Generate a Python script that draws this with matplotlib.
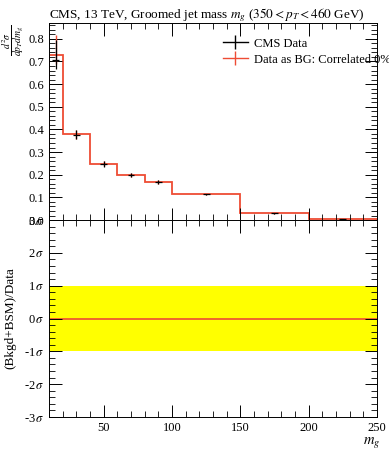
import numpy as np
import matplotlib.pyplot as plt
from matplotlib.lines import Line2D
from matplotlib.ticker import MultipleLocator, FixedLocator

# Bin edges in groomed jet mass m_g
bin_edges = [10, 20, 40, 60, 80, 100, 150, 200, 250]
# Histogram ("Data as BG") values
bg_values = [0.727, 0.378, 0.249, 0.198, 0.167, 0.113, 0.029, 0.003]
# CMS data points
data_x = [15, 30, 50, 70, 90, 125, 175, 225]
data_y = [0.705, 0.376, 0.248, 0.198, 0.167, 0.113, 0.029, 0.003]
data_err_lo = [0.04, 0.020, 0.012, 0.008, 0.008, 0.003, 0.001, 0.0005]
data_err_hi = [0.09, 0.020, 0.012, 0.008, 0.008, 0.003, 0.001, 0.0005]
# pull panel
sigma_band = [-1, 1]
pull_values = [0, 0, 0, 0, 0, 0, 0, 0]

plt.rcParams['font.family'] = ['Liberation Serif', 'DejaVu Serif']
plt.rcParams['mathtext.fontset'] = 'stix'
red = '#ee4c34'

fig = plt.figure(figsize=(3.89, 4.5), dpi=100)
ax1 = fig.add_axes([0.126, 0.511, 0.843, 0.438])
ax2 = fig.add_axes([0.126, 0.0733, 0.843, 0.4378])

# top panel
ax1.stairs(bg_values, bin_edges, color=red, lw=1.3)
ax1.errorbar(data_x, bg_values, yerr=[data_err_lo, data_err_hi], fmt='none',
             ecolor=red, elinewidth=1.0)
ax1.errorbar(data_x, data_y, yerr=[data_err_lo, data_err_hi],
             xerr=2.5, fmt='none', ecolor='black', elinewidth=0.9)
ax1.set_xlim(10, 250)
ax1.yaxis.set_major_locator(MultipleLocator(0.1))
ax1.yaxis.set_minor_locator(MultipleLocator(0.02))
ax1.set_ylim(0, 0.87)
ax1.yaxis.set_major_formatter(lambda v, p: '%.1f' % v)
ax1.set_xticklabels([])

handles = [Line2D([], [], color='black', lw=1.0, marker='|', markersize=10,
                  markeredgewidth=1.0),
           Line2D([], [], color=red, lw=1.0, marker='|', markersize=10,
                  markeredgewidth=1.0)]
labels = ['CMS Data', 'Data as BG: Correlated 0%']
ax1.legend(handles, labels, loc='upper left', bbox_to_anchor=(0.515, 0.95),
           frameon=False, fontsize=9, handlelength=2.0, handletextpad=0.5,
           borderaxespad=0, labelspacing=0.3)

fig.text(0.035, 0.91, r'$\frac{d^2\sigma}{dp_T dm_g}$', rotation=90,
         fontsize=10, ha='center', va='center')
fig.text(0.125, 0.985, r'CMS, 13 TeV, Groomed jet mass $m_g$ ($350 < p_T < 460$ GeV)',
         fontsize=9.5, ha='left', va='top')

# bottom panel
ax2.axhspan(sigma_band[0], sigma_band[1], color='#ffff00', lw=0)
ax2.stairs(pull_values, bin_edges, color=red, lw=1.2)
ax2.set_xlim(10, 250)
ax2.set_ylim(-3, 3)
ax2.yaxis.set_major_locator(FixedLocator([-3, -2, -1, 0, 1, 2, 3]))
ax2.yaxis.set_minor_locator(MultipleLocator(0.2))
ax2.set_yticklabels([r'-3$\,\sigma$', r'-2$\,\sigma$', r'-1$\,\sigma$',
                     r'0$\,\sigma$', r'1$\,\sigma$', r'2$\,\sigma$',
                     r'3$\,\sigma$'])
ax2.set_ylabel('(Bkgd+BSM)/Data', fontsize=9.5)
ax2.yaxis.set_label_coords(-0.1, 0.5)
ax2.set_xlabel(r'$m_g$', fontsize=10.5)
ax2.xaxis.set_label_coords(0.985, -0.09)

for ax in (ax1, ax2):
    ax.xaxis.set_major_locator(MultipleLocator(50))
    ax.xaxis.set_minor_locator(MultipleLocator(10))
    ax.tick_params(which='both', direction='in', top=True, right=True,
                   labelsize=9)
    ax.tick_params(which='major', length=9, width=0.7)
    ax.tick_params(which='minor', length=4.5, width=0.6)
    for s in ax.spines.values():
        s.set_linewidth(0.7)

ax2.set_xticks([50, 100, 150, 200, 250])

fig.savefig('out.png', dpi=100)
